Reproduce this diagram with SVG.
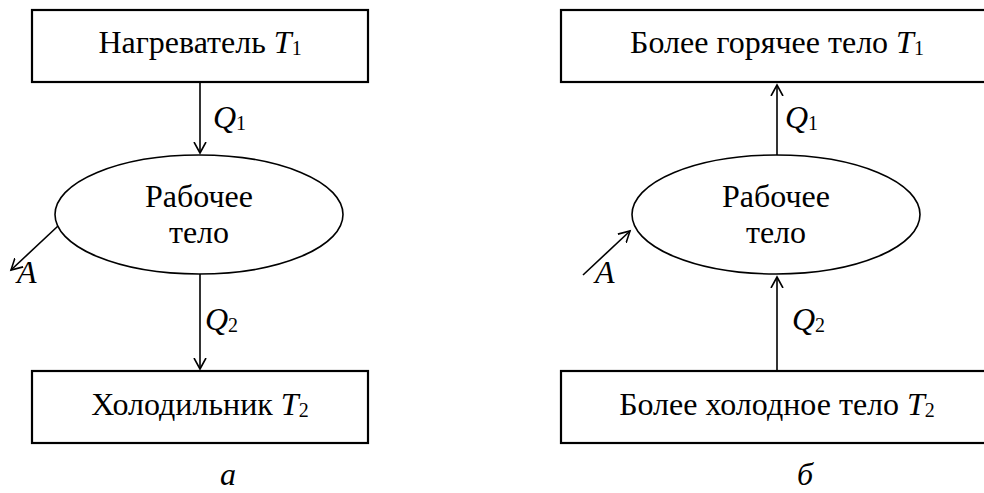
<svg xmlns="http://www.w3.org/2000/svg" width="984" height="493" viewBox="0 0 984 493" font-family="'Liberation Serif', 'DejaVu Serif', serif">
<style>
.box{fill:#fff;stroke:#000;stroke-width:2.2}
.ell{fill:#fff;stroke:#000;stroke-width:1.6}
.c{stroke:#000;stroke-width:1.6;fill:none;marker-end:url(#ah)}
text{font-family:'Liberation Serif','DejaVu Serif',serif;font-size:32px;fill:#000}
.m{text-anchor:middle}
.i{font-style:italic}
.s{font-size:20px;font-style:normal}
</style>
<defs>
<marker id="ah" markerUnits="userSpaceOnUse" markerWidth="14" markerHeight="14" refX="11" refY="6" orient="auto" viewBox="0 0 14 12">
<path d="M0,0 L11,6 L0,12" fill="none" stroke="#000" stroke-width="1.6"/>
</marker>
</defs>
<rect width="984" height="493" fill="#fff"/>
<g id="connectors">
<line class="c" x1="200" y1="82" x2="200" y2="153"/>
<line class="c" x1="200" y1="274" x2="200" y2="369"/>
<line class="c" x1="58" y1="226" x2="11" y2="270"/>
<line class="c" x1="777" y1="155" x2="777" y2="85"/>
<line class="c" x1="777" y1="371" x2="777" y2="277"/>
<line class="c" x1="583" y1="275" x2="630" y2="231"/>
</g>
<g id="labels">
<text x="213" y="128" class="i">Q<tspan class="s" dy="2">1</tspan></text>
<text x="205" y="330" class="i">Q<tspan class="s" dy="2">2</tspan></text>
<text x="17" y="283" class="i">A</text>
<text x="785" y="128" class="i">Q<tspan class="s" dy="2">1</tspan></text>
<text x="792" y="330" class="i">Q<tspan class="s" dy="2">2</tspan></text>
<text x="595" y="283" class="i">A</text>
<text x="228" y="485" class="m i">а</text>
<text x="805" y="485" class="m i">б</text>
</g>
<g id="heater">
<rect class="box" x="32" y="10" width="336" height="72"/>
<text x="200" y="53" class="m">Нагреватель <tspan class="i">T</tspan><tspan class="s" dy="2">1</tspan></text>
</g>
<g id="working-body-a">
<ellipse class="ell" cx="199" cy="214.5" rx="144" ry="59.5"/>
<text x="199" y="207" class="m">Рабочее</text>
<text x="199" y="243" class="m">тело</text>
</g>
<g id="cooler">
<rect class="box" x="32" y="371" width="336" height="72"/>
<text x="200" y="415" class="m">Холодильник <tspan class="i">T</tspan><tspan class="s" dy="2">2</tspan></text>
</g>
<g id="hotter-body">
<rect class="box" x="561" y="10" width="432" height="72"/>
<text x="777" y="53" class="m">Более горячее тело <tspan class="i">T</tspan><tspan class="s" dy="2">1</tspan></text>
</g>
<g id="working-body-b">
<ellipse class="ell" cx="776" cy="214.5" rx="144" ry="59.5"/>
<text x="776" y="207" class="m">Рабочее</text>
<text x="776" y="243" class="m">тело</text>
</g>
<g id="colder-body">
<rect class="box" x="561" y="371" width="432" height="72"/>
<text x="777" y="415" class="m">Более холодное тело <tspan class="i">T</tspan><tspan class="s" dy="2">2</tspan></text>
</g>
</svg>
